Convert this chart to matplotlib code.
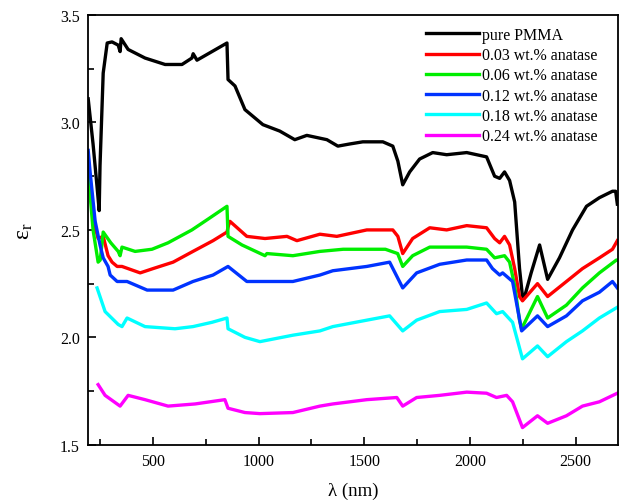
import matplotlib
matplotlib.use('Agg')
import matplotlib.pyplot as plt
from matplotlib.ticker import MultipleLocator

plt.rcParams['font.family'] = ['Liberation Serif', 'DejaVu Serif']
plt.rcParams['mathtext.fontset'] = 'stix'

# permittivity spectra, wavelength in nm
x_pmma = [193, 216, 235, 245, 249, 264, 283, 306, 335, 344, 349, 382, 462, 557,
          637, 684, 690, 708, 779, 850, 855, 888, 935, 1020, 1100, 1171, 1228,
          1323, 1375, 1431, 1493, 1588, 1635, 1659, 1682, 1715, 1762, 1824, 1890,
          1985, 2079, 2117, 2141, 2164, 2188, 2212, 2235, 2249, 2259, 2290, 2330,
          2368, 2424, 2486, 2552, 2613, 2675, 2690, 2698]
y_pmma = [3.11, 2.90, 2.70, 2.59, 2.80, 3.23, 3.37, 3.375, 3.36, 3.33, 3.39, 3.34,
          3.30, 3.27, 3.27, 3.30, 3.32, 3.29, 3.33, 3.37, 3.20, 3.17, 3.06, 2.99,
          2.96, 2.92, 2.94, 2.92, 2.89, 2.90, 2.91, 2.91, 2.89, 2.82, 2.71, 2.77,
          2.83, 2.86, 2.85, 2.86, 2.84, 2.75, 2.74, 2.77, 2.73, 2.63, 2.32, 2.19,
          2.19, 2.30, 2.43, 2.27, 2.37, 2.50, 2.61, 2.65, 2.68, 2.68, 2.62]

x_003 = [193, 216, 240, 264, 287, 306, 330, 353, 439, 500, 595, 689, 784, 850,
         857, 864, 944, 1030, 1134, 1181, 1290, 1370, 1512, 1635, 1659, 1682,
         1729, 1810, 1890, 1985, 2079, 2117, 2141, 2164, 2188, 2212, 2235, 2249,
         2320, 2368, 2457, 2533, 2613, 2675, 2698]
y_003 = [2.80, 2.55, 2.46, 2.47, 2.38, 2.35, 2.33, 2.33, 2.30, 2.32, 2.35, 2.40,
         2.45, 2.49, 2.52, 2.54, 2.47, 2.46, 2.47, 2.45, 2.48, 2.47, 2.50, 2.50,
         2.47, 2.39, 2.46, 2.51, 2.50, 2.52, 2.51, 2.46, 2.44, 2.47, 2.43, 2.32,
         2.19, 2.17, 2.25, 2.19, 2.26, 2.32, 2.37, 2.41, 2.45]

x_006 = [193, 216, 240, 250, 264, 300, 335, 344, 353, 415, 495, 571, 684, 760,
         850, 855, 921, 1030, 1039, 1162, 1290, 1400, 1600, 1658, 1682, 1729,
         1810, 1985, 2079, 2117, 2164, 2188, 2212, 2235, 2245, 2320, 2368,
         2457, 2533, 2613, 2694, 2698]
y_006 = [2.77, 2.50, 2.35, 2.36, 2.49, 2.44, 2.40, 2.38, 2.42, 2.40, 2.41, 2.44,
         2.50, 2.55, 2.61, 2.47, 2.43, 2.38, 2.39, 2.38, 2.40, 2.41, 2.41, 2.39,
         2.33, 2.38, 2.42, 2.42, 2.41, 2.37, 2.38, 2.35, 2.24, 2.08, 2.04, 2.19,
         2.09, 2.15, 2.23, 2.30, 2.36, 2.36]

x_012 = [193, 202, 226, 249, 264, 287, 297, 330, 377, 472, 595, 689, 784, 855,
         944, 1039, 1162, 1290, 1351, 1512, 1620, 1682, 1748, 1857, 1985, 2079,
         2107, 2141, 2155, 2202, 2245, 2320, 2368, 2457, 2533, 2613, 2675, 2698]
y_012 = [2.87, 2.77, 2.54, 2.43, 2.37, 2.33, 2.29, 2.26, 2.26, 2.22, 2.22, 2.26,
         2.29, 2.33, 2.26, 2.26, 2.26, 2.29, 2.31, 2.33, 2.35, 2.23, 2.30, 2.34,
         2.36, 2.36, 2.32, 2.29, 2.30, 2.26, 2.03, 2.10, 2.05, 2.10, 2.17, 2.21,
         2.26, 2.23]

x_018 = [235, 273, 335, 353, 377, 462, 604, 689, 779, 850, 855, 935, 1006, 1162,
         1290, 1351, 1512, 1620, 1682, 1748, 1857, 1985, 2079, 2126, 2155, 2202,
         2249, 2320, 2368, 2457, 2533, 2613, 2698]
y_018 = [2.23, 2.12, 2.06, 2.05, 2.09, 2.05, 2.04, 2.05, 2.07, 2.09, 2.04, 2.00,
         1.98, 2.01, 2.03, 2.05, 2.08, 2.10, 2.03, 2.08, 2.12, 2.13, 2.16, 2.11,
         2.12, 2.07, 1.90, 1.96, 1.91, 1.98, 2.03, 2.09, 2.14]

x_024 = [240, 273, 344, 382, 462, 571, 699, 840, 855, 935, 1006, 1162, 1290,
         1351, 1512, 1654, 1682, 1748, 1857, 1985, 2079, 2126, 2174, 2202, 2249,
         2320, 2368, 2457, 2533, 2613, 2698]
y_024 = [1.78, 1.73, 1.68, 1.73, 1.71, 1.68, 1.69, 1.71, 1.67, 1.65, 1.645,
         1.65, 1.68, 1.69, 1.71, 1.72, 1.68, 1.72, 1.73, 1.745, 1.74, 1.72, 1.73,
         1.70, 1.58, 1.635, 1.60, 1.635, 1.68, 1.70, 1.74]

labels = ['pure PMMA', '0.03 wt.% anatase', '0.06 wt.% anatase',
          '0.12 wt.% anatase', '0.18 wt.% anatase', '0.24 wt.% anatase']
colors = ['#000000', '#ff0000', '#00ee00', '#0033ff', '#00ffff', '#ff00ff']

fig = plt.figure(figsize=(6.24, 5.02), dpi=100)
ax = fig.add_axes([0.141, 0.112, 0.849, 0.856])

series = [(x_pmma, y_pmma), (x_003, y_003), (x_006, y_006),
          (x_012, y_012), (x_018, y_018), (x_024, y_024)]
for (xs, ys), lab, col in zip(series, labels, colors):
    ax.plot(xs, ys, color=col, lw=2.4, label=lab)

ax.set_xlim(192, 2700)
ax.set_ylim(1.5, 3.5)
ax.xaxis.set_major_locator(MultipleLocator(500))
ax.xaxis.set_minor_locator(MultipleLocator(250))
ax.yaxis.set_major_locator(MultipleLocator(0.5))
ax.yaxis.set_minor_locator(MultipleLocator(0.25))
ax.tick_params(which='both', direction='in', top=False, right=False,
               labelsize=11.5, width=1.2)
ax.tick_params(which='major', length=6, pad=6)
ax.tick_params(which='minor', length=4)
for sp in ax.spines.values():
    sp.set_linewidth(1.3)

ax.set_xlabel('λ (nm)', fontsize=13.5, labelpad=9)
ax.set_ylabel('ε$_\\mathregular{r}$', fontsize=17, labelpad=18)

ax.legend(loc='upper right', bbox_to_anchor=(0.98, 0.995), frameon=False,
          fontsize=11.5, handlelength=3.3, handletextpad=0.2,
          labelspacing=0.27, borderaxespad=0.2)

fig.savefig('out.png', dpi=100)
